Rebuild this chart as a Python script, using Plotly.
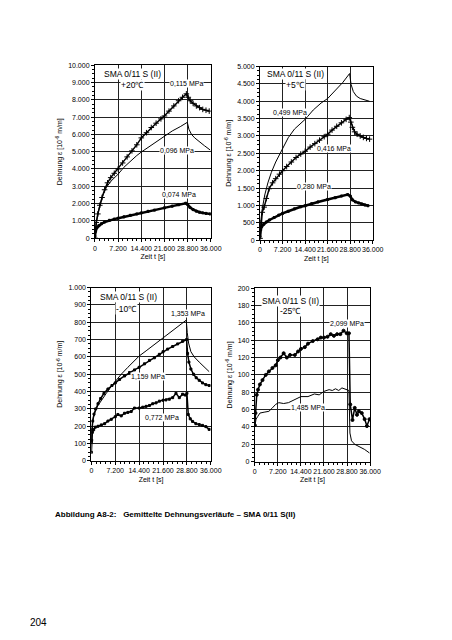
import plotly.graph_objects as go

# ---------- data (time in s, strain in 1e-6 m/m) ----------
# Panel 1: +20 °C
t115 = [0, 400, 900, 1500, 2200, 3000, 3900, 4900, 6000, 7200, 8600, 10000, 11500, 13000, 14400, 16000,
        17500, 19000, 20500, 21600, 23000, 24500, 26000, 27200, 28400, 29000, 29600, 30500, 31500, 32500,
        33500, 34500, 35500]
y115 = [0, 900, 1400, 1900, 2350, 2800, 3200, 3500, 3750, 4000, 4350, 4700, 5050, 5400, 5800, 6100,
        6400, 6650, 6900, 7070, 7350, 7650, 7950, 8150, 8350, 8150, 7950, 7800, 7650, 7550,
        7450, 7400, 7350]
t096 = [0, 300, 800, 1500, 2500, 3600, 5000, 7200, 9000, 11000, 13000, 14400, 16500, 18500, 21600,
        24000, 26500, 28700, 29200, 30000, 31000, 32500, 34000, 35800]
y096 = [0, 700, 1300, 1900, 2500, 2950, 3300, 3700, 4100, 4450, 4780, 4980, 5250, 5500, 5900,
        6200, 6450, 6700, 6300, 6000, 5800, 5550, 5350, 5100]
t074 = [0, 200, 600, 1200, 2000, 3000, 4500, 6000, 7200, 9000, 11000, 13000, 14400, 16500, 18500, 21600,
        24000, 26000, 28200, 28800, 29500, 30500, 31500, 32500, 33500, 34500, 35800]
y074 = [100, 400, 600, 720, 830, 930, 1030, 1100, 1150, 1230, 1320, 1400, 1460, 1550, 1620, 1750,
        1850, 1930, 2020, 1950, 1780, 1650, 1560, 1500, 1460, 1430, 1400]

# Panel 2: +5 °C
t499 = [0, 300, 800, 1500, 2500, 3600, 5000, 7200, 9000, 11000, 14400, 17000, 19500, 21600, 24000,
        26500, 28600, 29100, 29800, 30800, 32000, 33500, 35000]
y499 = [100, 600, 950, 1300, 1650, 1950, 2250, 2650, 2950, 3200, 3480, 3750, 3950, 4080, 4300,
        4550, 4800, 4480, 4280, 4150, 4080, 4030, 4000]
t416 = [0, 300, 700, 1300, 2000, 2900, 4000, 5000, 6200, 7200, 8500, 10000, 11500, 13000, 14400, 16000,
        17500, 19000, 20500, 21600, 23000, 24500, 26000, 27500, 28500, 29000, 29500, 30200, 31000, 32000,
        33000, 34000, 35000]
y416 = [50, 500, 800, 950, 1200, 1480, 1650, 1770, 1900, 2000, 2120, 2250, 2380, 2480, 2560, 2680,
        2780, 2880, 2980, 3050, 3170, 3280, 3380, 3480, 3530, 3400, 3250, 3120, 3050, 3000,
        2960, 2930, 2910]
t280 = [0, 200, 600, 1200, 2000, 3000, 4500, 6000, 7200, 9000, 11000, 13000, 14400, 16500, 18500, 21600,
        24000, 26000, 28000, 28800, 29500, 30500, 31500, 32500, 33500, 34500]
y280 = [100, 300, 400, 460, 520, 580, 650, 720, 770, 830, 900, 960, 990, 1050, 1100, 1170,
        1220, 1270, 1310, 1270, 1160, 1100, 1070, 1040, 1010, 990]

# Panel 3: -10 °C
t1353 = [0, 200, 600, 1200, 2000, 3000, 4500, 6000, 7200, 9000, 11000, 13000, 14400, 16500, 18500, 21600,
         24000, 26500, 28600, 28900, 29300, 30000, 31000, 32500, 34000, 35500]
y1353 = [120, 200, 250, 290, 320, 350, 390, 430, 460, 500, 540, 575, 605, 635, 665, 712,
         745, 780, 812, 740, 680, 630, 600, 570, 540, 515]
t1159 = [0, 150, 400, 800, 1300, 2000, 2800, 3800, 5000, 6200, 7200, 8500, 10000, 11500, 13000, 14400,
         16000, 17500, 19000, 20500, 21600, 23000, 24500, 26000, 27500, 28700, 29000, 29400, 30000, 30800,
         31600, 32500, 33500, 34500, 35500]
y1159 = [110, 180, 230, 270, 300, 330, 360, 390, 415, 435, 450, 470, 490, 510, 525, 540,
         560, 580, 595, 615, 630, 645, 660, 675, 690, 700, 620, 570, 530, 500,
         480, 465, 450, 440, 435]
t772 = [0, 100, 300, 700, 1200, 2000, 3000, 4000, 5000, 6000, 7200, 8000, 9000, 10000, 11000, 12000,
        13000, 14400, 15500, 16500, 17500, 18500, 19500, 20500, 21600, 22500, 23500, 24500, 25500, 26500,
        27500, 28300, 28800, 29200, 29800, 30500, 31500, 32500, 33500, 34500, 35500]
y772 = [50, 120, 165, 180, 195, 200, 208, 215, 230, 240, 255, 268, 260, 275, 280, 285,
        305, 305, 310, 315, 320, 330, 335, 345, 350, 352, 356, 365, 390, 365,
        385, 380, 390, 268, 243, 228, 215, 210, 205, 198, 182]

# Panel 4: -25 °C
t2099 = [0, 200, 600, 1000, 1600, 2400, 3400, 4400, 5500, 6500, 7200, 8000, 9000, 10000, 11000, 12500,
         13500, 14400, 15600, 16600, 18100, 19600, 20600, 21600, 22700, 23700, 24700, 25700, 26700, 27700,
         28700, 29400, 29800, 30500, 31200, 31900, 32500, 33400, 34300, 35000, 35800]
y2099 = [42, 56, 77, 83, 89, 94, 100, 104, 108, 111, 117, 120, 125, 120, 123, 123,
         127, 130, 132, 136, 139, 141, 143, 143, 144, 147, 145, 147, 147, 151,
         148, 148, 66, 48, 62, 54, 58, 56, 49, 41, 49]
t1485 = [0, 400, 900, 1600, 2900, 4400, 5500, 6500, 7500, 9000, 10500, 12500, 14400, 16600, 18600, 20100,
         21600, 23200, 24200, 25200, 26200, 27200, 28200, 29400, 29700, 30200, 31200, 32200, 33200, 34300,
         35800]
y1485 = [41, 49, 52, 56, 57, 58, 62, 66, 68, 67, 68, 72, 75, 75, 78, 77,
         81, 83, 82, 84, 82, 85, 84, 82, 33, 24, 20, 18, 16, 14,
         10]

# ---------- figure ----------
FONT = "Liberation Sans, Arial, sans-serif"
fig = go.Figure()

def add(t, y, ax, mode, symbol=None, size=3, lw=1.0):
    tr = dict(x=t, y=y, xaxis="x" + ax, yaxis="y" + ax, mode=mode, showlegend=False,
              line=dict(color="black", width=lw), hoverinfo="skip")
    if symbol:
        tr["marker"] = dict(symbol=symbol, size=size, color="black",
                            line=dict(color="black", width=1))
    fig.add_trace(go.Scatter(**tr))

add(t115, y115, "", "lines+markers", "cross-thin", 4, 1.5)
add(t096, y096, "", "lines", lw=1)
add(t074, y074, "", "lines+markers", "square", 2, 2.5)

add(t499, y499, "2", "lines", lw=1)
add(t416, y416, "2", "lines+markers", "cross-thin", 4, 1.5)
add(t280, y280, "2", "lines+markers", "square", 2, 2.5)

add(t1353, y1353, "3", "lines", lw=1)
add(t1159, y1159, "3", "lines+markers", "square", 2, 1.5)
add(t772, y772, "3", "lines+markers", "square", 2, 1.5)

add(t2099, y2099, "4", "lines+markers", "circle", 3, 1.5)
add(t1485, y1485, "4", "lines", lw=1)

W, H = 452, 640
panels = {
    "": dict(x0=95.7, x1=215, ytop=62, ybot=236.7, ymax=10000, dy=1000),
    "2": dict(x0=265.7, x1=381.7, ytop=63.3, ybot=238.7, ymax=5000, dy=500),
    "3": dict(x0=92, x1=215, ytop=286.7, ybot=462, ymax=1000, dy=100),
    "4": dict(x0=260.3, x1=379, ytop=287.3, ybot=462.7, ymax=200, dy=20),
}

tickfont = dict(family=FONT, size=7, color="black")
layout = dict(width=W, height=H, margin=dict(l=0, r=0, t=0, b=0),
              paper_bgcolor="white", plot_bgcolor="white", separators=",.",
              font=dict(family=FONT, color="black"))
for k, p in panels.items():
    xa = "xaxis" + k
    ya = "yaxis" + k
    layout[xa] = dict(domain=[p["x0"] / W, p["x1"] / W], range=[0, 36000], dtick=7200, tick0=0,
                      tickformat=",", tickangle=0, anchor="y" + k, showline=True, mirror=True,
                      linecolor="black", linewidth=1, showgrid=True, gridcolor="#222", gridwidth=1,
                      zeroline=False, ticks="outside", ticklen=3, tickcolor="black", tickfont=tickfont,
                      minor=dict(dtick=1440, ticks="outside", ticklen=2, tickcolor="black", showgrid=False),
                      title=dict(text="Zeit t [s]", font=dict(family=FONT, size=7), standoff=3))
    layout[ya] = dict(domain=[1 - p["ybot"] / H, 1 - p["ytop"] / H], range=[0, p["ymax"]],
                      dtick=p["dy"], tick0=0, tickformat=",", anchor="x" + k, showline=True, mirror=True,
                      linecolor="black", linewidth=1, showgrid=True, gridcolor="#222", gridwidth=1,
                      zeroline=False, ticks="outside", ticklen=3, tickcolor="black", tickfont=tickfont,
                      minor=dict(dtick=p["dy"] / 4, ticks="outside", ticklen=2, tickcolor="black",
                                 showgrid=False),
                      title=dict(text="Dehnung ε [10<sup>-6</sup> m/m]", font=dict(family=FONT, size=7),
                                 standoff=4))
fig.update_layout(**layout)

# annotations
title_text = "SMA 0/11 S (II)"
ann_specs = [
    ("", 11560, 9500, title_text, 8.5), ("", 11560, 8870, "+20℃", 8.5),
    ("", 28460, 8970, "0,115 MPa", 7), ("", 25440, 5060, "0,096 MPa", 7), ("", 26250, 2520, "0,074 MPa", 7),
    ("2", 11170, 4790, title_text, 8.5), ("2", 11170, 4475, "+5℃", 8.5),
    ("2", 9530, 3670, "0,499 MPa", 7), ("2", 23590, 2650, "0,416 MPa", 7), ("2", 17380, 1550, "0,280 MPa", 7),
    ("3", 11210, 943, title_text, 8.5), ("3", 10630, 877, "-10℃", 8.5),
    ("3", 28980, 848, "1,353 MPa", 7), ("3", 16980, 487, "1,159 MPa", 7), ("3", 21370, 249, "0,772 MPa", 7),
    ("4", 11280, 185.5, title_text, 8.5), ("4", 11000, 174, "-25℃", 8.5),
    ("4", 28720, 159, "2,099 MPa", 7), ("4", 16590, 62, "1,485 MPa", 7),
]
for ax, x, y, txt, sz in ann_specs:
    fig.add_annotation(x=x, y=y, xref="x" + ax, yref="y" + ax, text=txt, showarrow=False,
                       font=dict(family=FONT, size=sz, color="black"),
                       bgcolor="white", borderpad=0)

fig.add_annotation(x=53 / W, y=1 - 516 / H, xref="paper", yref="paper", xanchor="left", yanchor="middle",
                   text="<b>Abbildung A8-2:   Gemittelte Dehnungsverläufe – SMA 0/11 S(II)</b>",
                   showarrow=False, font=dict(family=FONT, size=8, color="black"))
fig.add_annotation(x=27 / W, y=1 - 625 / H, xref="paper", yref="paper", xanchor="left", yanchor="middle",
                   text="204", showarrow=False, font=dict(family=FONT, size=10, color="black"))

fig.write_html("out.html", config={"displayModeBar": False},
               post_script="document.body.style.margin='0';")
